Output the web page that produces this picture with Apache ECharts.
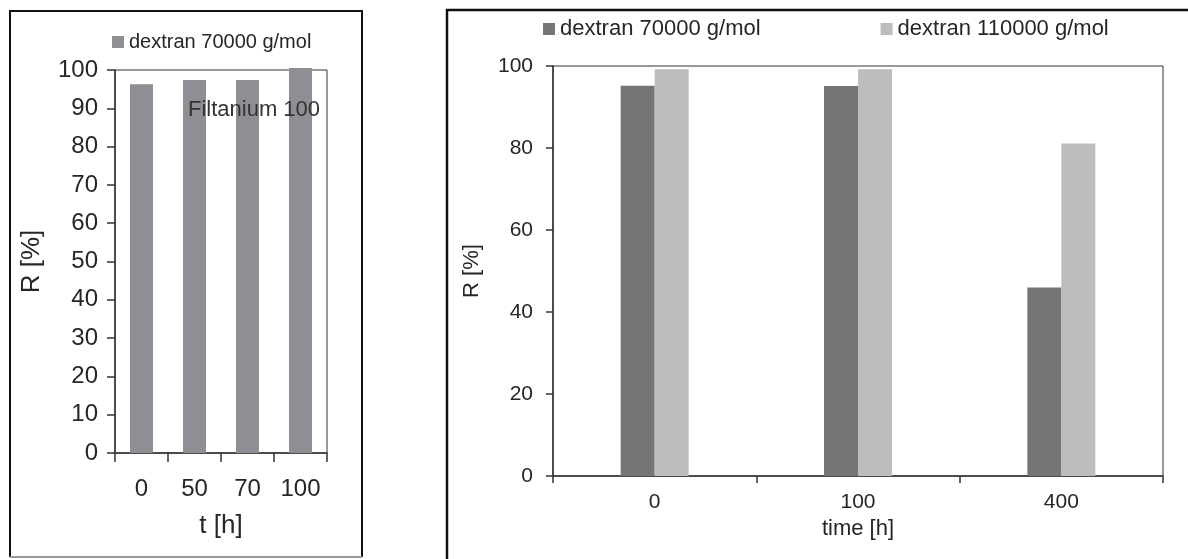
<!DOCTYPE html>
<html>
<head>
<meta charset="utf-8">
<title>Dextran rejection over time</title>
<script src="https://cdn.jsdelivr.net/npm/echarts@6/dist/echarts.min.js"></script>
<style>
  html, body { margin: 0; padding: 0; background: #fff; }
  #page { position: relative; width: 1188px; height: 559px; overflow: hidden; }
  #left { position: absolute; left: 0; top: 0; width: 380px; height: 559px; }
  #right { position: absolute; left: 440px; top: 0; width: 748px; height: 559px; }
</style>
</head>
<body>
<div id="page">
  <div id="left"></div>
  <div id="right"></div>
</div>
<script>
// Left panel: Filtanium 100 membrane, rejection of dextran 70000 g/mol
const leftTimes = ['0', '50', '70', '100'];
const leftDextran70k = [96.3, 97.4, 97.4, 100.5];

// Right panel: rejection of two dextran sizes over a longer run
const rightTimes = ['0', '100', '400'];
const rightDextran70k = [95.2, 95.1, 46.0];
const rightDextran110k = [99.2, 99.2, 81.1];

const FONT = '"Liberation Sans", Arial, Helvetica, sans-serif';
const TEXT = '#262626';
const AXIS = '#333333';

// ---------- left chart ----------
const leftChart = echarts.init(document.getElementById('left'), null, { renderer: 'canvas' });
leftChart.setOption({
  animation: false,
  textStyle: { fontFamily: FONT },
  legend: {
    left: 112, top: 32, padding: 0,
    itemWidth: 12, itemHeight: 12,
    icon: 'rect',
    textStyle: { fontSize: 20, color: TEXT, fontFamily: FONT },
    data: ['dextran 70000 g/mol']
  },
  grid: {
    left: 115, top: 70, width: 212, height: 383,
    show: true, borderColor: AXIS, borderWidth: 1, backgroundColor: 'transparent'
  },
  xAxis: {
    type: 'category',
    data: leftTimes,
    name: 't [h]',
    nameLocation: 'middle',
    nameGap: 60,
    nameTextStyle: { fontSize: 26, color: TEXT, fontFamily: FONT },
    axisLine: { lineStyle: { color: AXIS, width: 1.5 } },
    axisTick: { show: true, inside: false, length: 9, lineStyle: { color: AXIS, width: 1.5 } },
    axisLabel: { fontSize: 24, color: TEXT, margin: 24, fontFamily: FONT },
    splitLine: { show: false }
  },
  yAxis: {
    type: 'value',
    min: 0, max: 100, interval: 10,
    name: 'R [%]',
    nameLocation: 'middle',
    nameRotate: 90,
    nameGap: 70,
    nameTextStyle: { fontSize: 26, color: TEXT, fontFamily: FONT },
    axisLine: { show: true, lineStyle: { color: AXIS, width: 1.5 } },
    axisTick: { show: true, inside: false, length: 8, lineStyle: { color: AXIS, width: 1.5 } },
    axisLabel: { fontSize: 24, color: TEXT, margin: 17, fontFamily: FONT },
    splitLine: { show: false }
  },
  series: [{
    name: 'dextran 70000 g/mol',
    type: 'bar',
    data: leftDextran70k,
    barWidth: 23,
    clip: false,
    itemStyle: { color: '#8e8f94' }
  }],
  graphic: [
    {
      type: 'text', left: 188, top: 99, z: 100,
      style: { text: 'Filtanium 100', fontSize: 22, fill: '#333', fontFamily: FONT }
    },
    {
      type: 'polyline', z: 100, silent: true,
      shape: { points: [[10, 557], [10, 11], [362, 11], [362, 557]] },
      style: { stroke: '#111', lineWidth: 2, fill: null }
    },
    {
      type: 'line', z: 100, silent: true,
      shape: { x1: 10, y1: 557, x2: 362, y2: 557 },
      style: { stroke: '#9a9a9a', lineWidth: 2 }
    }
  ]
});

// ---------- right chart ----------
const rightChart = echarts.init(document.getElementById('right'), null, { renderer: 'canvas' });
rightChart.setOption({
  animation: false,
  textStyle: { fontFamily: FONT },
  legend: {
    left: 103, top: 18, padding: 0,
    itemWidth: 12, itemHeight: 12, itemGap: 120,
    icon: 'rect',
    textStyle: { fontSize: 22, color: TEXT, fontFamily: FONT },
    data: ['dextran 70000 g/mol', 'dextran 110000 g/mol']
  },
  grid: {
    left: 113, top: 66, width: 610, height: 410,
    show: true, borderColor: AXIS, borderWidth: 1, backgroundColor: 'transparent'
  },
  xAxis: {
    type: 'category',
    data: rightTimes,
    name: 'time [h]',
    nameLocation: 'middle',
    nameGap: 41,
    nameTextStyle: { fontSize: 22, color: TEXT, fontFamily: FONT },
    axisLine: { lineStyle: { color: AXIS, width: 1.5 } },
    axisTick: { show: true, inside: false, length: 7, lineStyle: { color: AXIS, width: 1.5 } },
    axisLabel: { fontSize: 21, color: TEXT, margin: 16, fontFamily: FONT },
    splitLine: { show: false }
  },
  yAxis: {
    type: 'value',
    min: 0, max: 100, interval: 20,
    name: 'R [%]',
    nameLocation: 'middle',
    nameRotate: 90,
    nameGap: 70,
    nameTextStyle: { fontSize: 22, color: TEXT, fontFamily: FONT },
    axisLine: { show: true, lineStyle: { color: AXIS, width: 1.5 } },
    axisTick: { show: true, inside: false, length: 7, lineStyle: { color: AXIS, width: 1.5 } },
    axisLabel: { fontSize: 21, color: TEXT, margin: 20, fontFamily: FONT },
    splitLine: { show: false }
  },
  series: [
    {
      name: 'dextran 70000 g/mol',
      type: 'bar',
      data: rightDextran70k,
      barWidth: 34,
      barGap: '0%',
      itemStyle: { color: '#767475' }
    },
    {
      name: 'dextran 110000 g/mol',
      type: 'bar',
      data: rightDextran110k,
      barWidth: 34,
      barGap: '0%',
      itemStyle: { color: '#bdbdbd' }
    }
  ],
  graphic: [
    {
      type: 'polyline', z: 100, silent: true,
      shape: { points: [[7, 600], [7, 10], [760, 10]] },
      style: { stroke: '#111', lineWidth: 2.5, fill: null }
    }
  ]
});
</script>
</body>
</html>
